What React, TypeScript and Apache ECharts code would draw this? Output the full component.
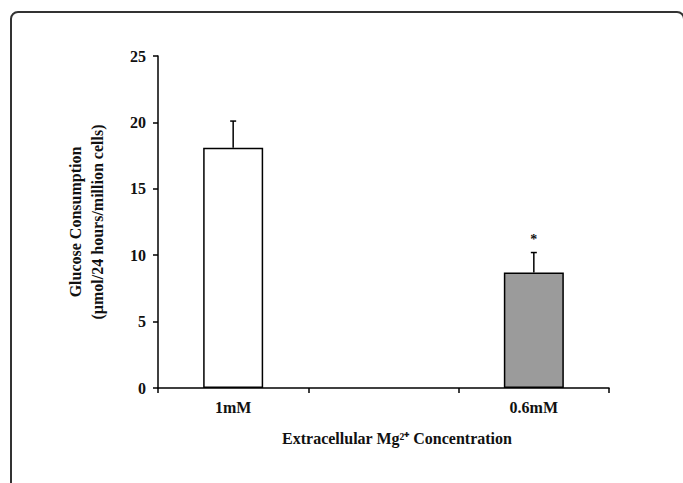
import React, { useEffect, useRef } from "react";
import * as echarts from "echarts";

const categories = ["1mM", "", "0.6mM"];
const meanValues: (number | null)[] = [18.1, null, 8.7];
const errorValues: (number | null)[] = [2.0, null, 1.5];
const significance = ["", "", "*"];
const barColors = ["#ffffff", "#ffffff", "#9b9b9b"];
const yTicks = [0, 5, 10, 15, 20, 25];

const FONT = "'Liberation Serif', 'Times New Roman', serif";

export default function App() {
  const ref = useRef<HTMLDivElement>(null);
  useEffect(() => {
    if (!ref.current) return;
    const chart = echarts.init(ref.current, undefined, { renderer: "svg" });
    const errData = categories.map((_, i) => [i, meanValues[i], errorValues[i]]).filter((d) => d[1] != null);
    chart.setOption({
      animation: false,
      backgroundColor: "#ffffff",
      grid: { left: 158, right: 74, top: 56, bottom: 95, containLabel: false },
      xAxis: {
        type: "category",
        data: categories,
        boundaryGap: true,
        axisLine: { lineStyle: { color: "#000", width: 1.5 } },
        axisTick: { show: true, length: 5, lineStyle: { color: "#000", width: 1.5 } },
        axisLabel: { fontFamily: FONT, fontWeight: "bold", fontSize: 16, color: "#111", margin: 11 },
        name: "Extracellular Mg²⁺ Concentration",
        nameLocation: "middle",
        nameGap: 42,
        nameTextStyle: { fontFamily: FONT, fontWeight: "bold", fontSize: 16, color: "#111", padding: [0, 0, 0, 27] },
      },
      yAxis: {
        type: "value",
        min: yTicks[0],
        max: yTicks[yTicks.length - 1],
        interval: 5,
        splitLine: { show: false },
        axisLine: { show: true, lineStyle: { color: "#000", width: 1.5 } },
        axisTick: { show: true, length: 5, lineStyle: { color: "#000", width: 1.5 } },
        axisLabel: { fontFamily: FONT, fontWeight: "bold", fontSize: 16, color: "#111", margin: 12 },
        name: "Glucose Consumption\n(µmol/24 hours/million cells)",
        nameLocation: "middle",
        nameGap: 50,
        nameTextStyle: { fontFamily: FONT, fontWeight: "bold", fontSize: 16, color: "#111", lineHeight: 22 },
      },
      graphic: [
        {
          type: "rect",
          shape: { x: 11, y: 12, width: 673, height: 520, r: 7 },
          style: { fill: "none", stroke: "#333", lineWidth: 2 },
          silent: true,
        },
      ],
      series: [
        {
          type: "bar",
          barWidth: 60,
          data: meanValues.map((v, i) => ({
            value: v,
            itemStyle: { color: barColors[i], borderColor: "#000", borderWidth: 1.5 },
          })),
        },
        {
          type: "custom",
          data: errData,
          renderItem: (params: any, api: any) => {
            const idx = api.value(0);
            const mean = api.value(1);
            const err = api.value(2);
            const base = api.coord([idx, mean]);
            const top = api.coord([idx, mean + err]);
            const children: any[] = [
              {
                type: "line",
                shape: { x1: base[0], y1: base[1], x2: top[0], y2: top[1] },
                style: { stroke: "#000", lineWidth: 1.5 },
              },
              {
                type: "line",
                shape: { x1: top[0] - 3, y1: top[1], x2: top[0] + 3, y2: top[1] },
                style: { stroke: "#000", lineWidth: 1.5 },
              },
            ];
            const sig = significance[idx];
            if (sig) {
              children.push({
                type: "text",
                x: top[0],
                y: top[1] - 13,
                style: {
                  text: sig,
                  fontFamily: FONT,
                  fontWeight: "bold",
                  fontSize: 14,
                  fill: "#111",
                  align: "center",
                  verticalAlign: "middle",
                },
              });
            }
            return { type: "group", children };
          },
          z: 5,
        },
      ],
    });
    return () => chart.dispose();
  }, []);
  return <div ref={ref} style={{ position: "absolute", left: 0, top: 0, width: 683, height: 483 }} />;
}
